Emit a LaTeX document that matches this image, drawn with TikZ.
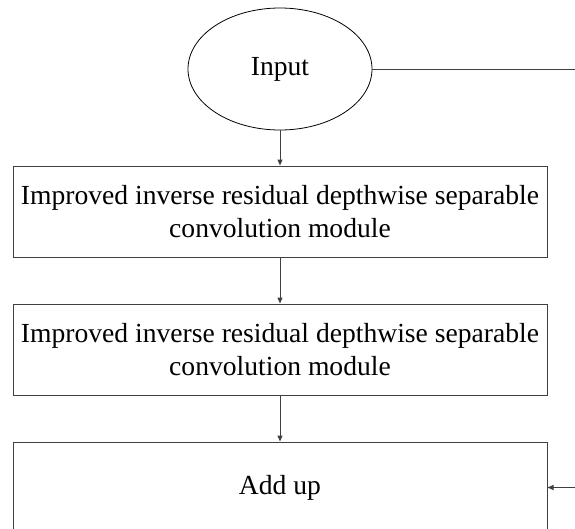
\documentclass[tikz,border=0pt]{standalone}
\usepackage{fontspec}
\setmainfont{Liberation Serif}
\usetikzlibrary{shapes.geometric,arrows.meta}
\begin{document}
\begin{tikzpicture}[x=1pt,y=-1pt,
  every node/.style={font=\fontsize{27.6}{33.5}\selectfont},
  modbox/.style={draw=black!75,line width=1pt,minimum width=534pt,minimum height=91pt,align=center,inner sep=0pt},
  inbubble/.style={draw=black,line width=0.8pt,ellipse,minimum width=184pt,minimum height=122pt,inner sep=0pt},
  link/.style={draw=black!75,line width=1pt,-{Triangle[length=6pt,width=5pt]}}]
  \useasboundingbox (0,0) rectangle (575,528);
  \clip (0,0) rectangle (575,528);
  \node[inbubble] (in) at (280,69) {Input};
  \node[modbox] (m1) at (280,211.5) {Improved inverse residual depthwise separable\\convolution module};
  \node[modbox] (m2) at (280,349.5) {Improved inverse residual depthwise separable\\convolution module};
  \node[modbox] (add) at (280,487.5) {Add up};
  \coordinate (skipA) at (576,69);
  \coordinate (skipB) at (576,487.5);
  \draw[draw=black!75,line width=1pt] (in.east) -- (skipA);
  \draw[link] (in.south) -- (m1.north);
  \draw[link] (m1.south) -- (m2.north);
  \draw[link] (m2.south) -- (add.north);
  \draw[link] (skipB) -- (add.east);
\end{tikzpicture}
\end{document}
